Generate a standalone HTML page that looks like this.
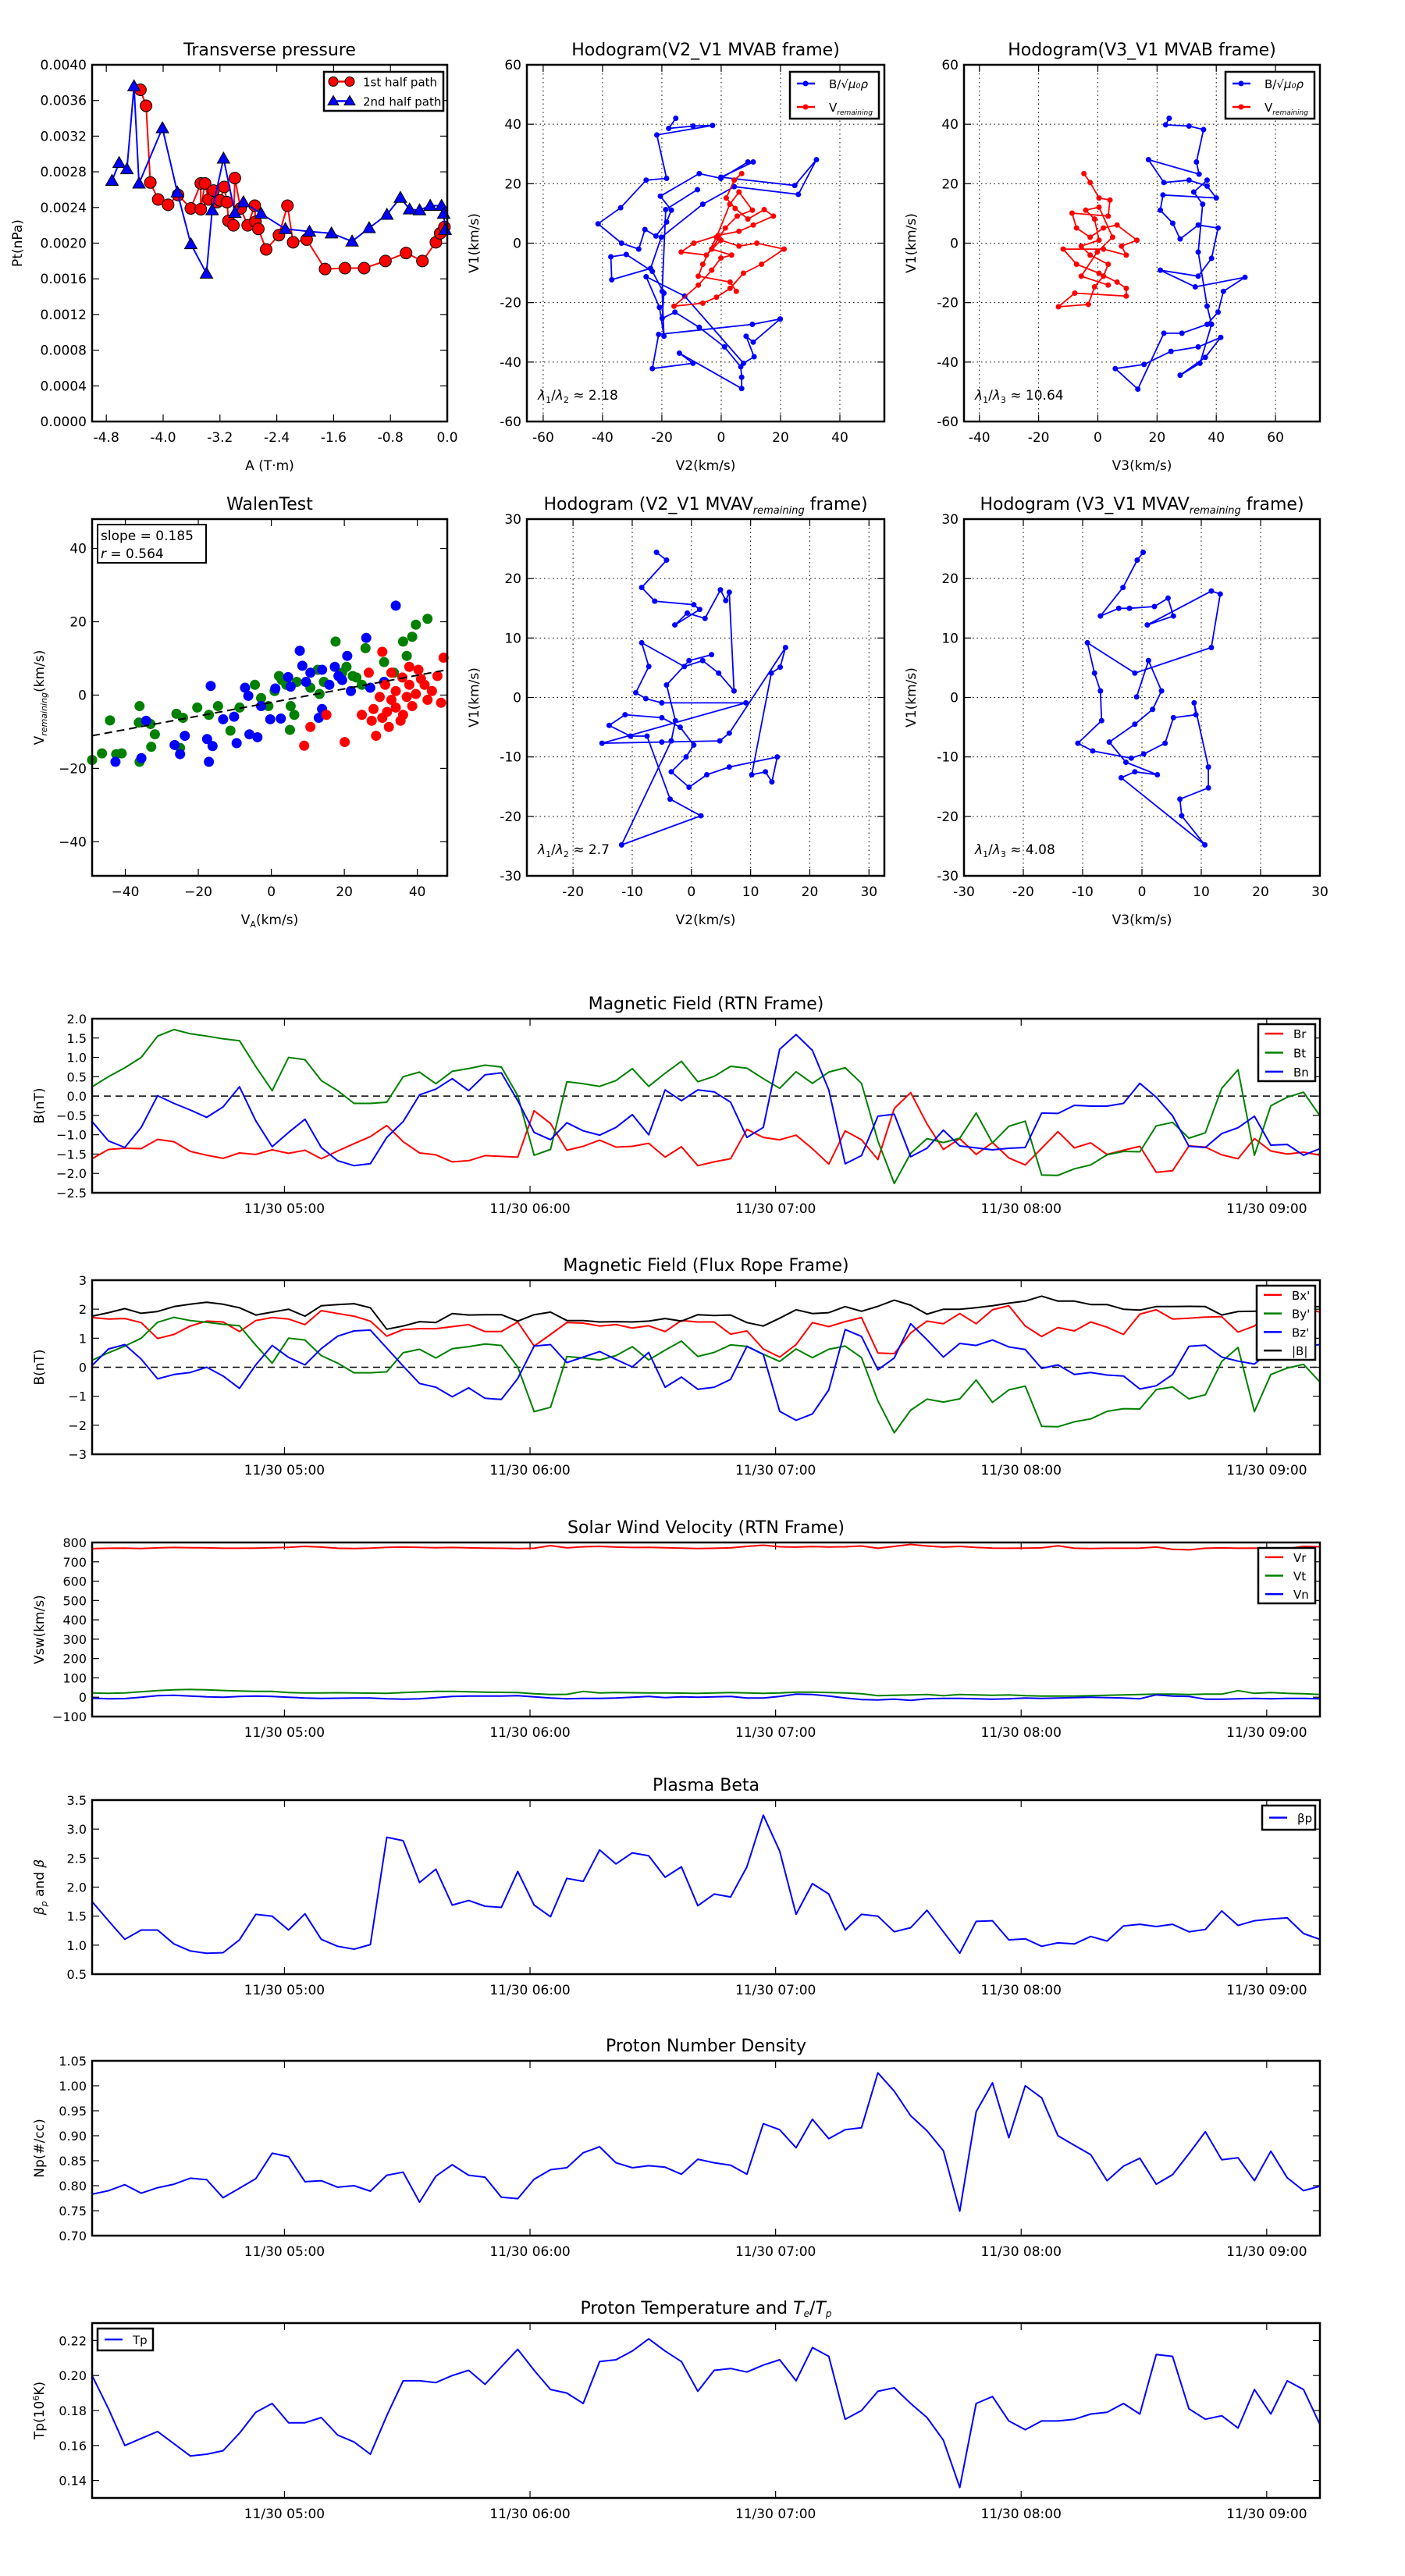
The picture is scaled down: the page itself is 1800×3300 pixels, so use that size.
<!DOCTYPE html>
<html><head><meta charset="utf-8">
<style>
html,body{margin:0;padding:0;background:#fff;}
svg{display:block;font-family:"DejaVu Sans","Liberation Sans",sans-serif;}
</style></head>
<body>
<svg id="fig" width="1800" height="3300" viewBox="0 0 1800 3300" xmlns="http://www.w3.org/2000/svg"></svg>
<script>
// ---------- DATA ----------
const ptRedA=[-4.32,-4.24,-4.18,-4.07,-3.93,-3.79,-3.61,-3.47,-3.47,-3.41,-3.36,-3.29,-3.24,-3.20,-3.14,-3.10,-3.08,-3.01,-2.99,-2.91,-2.81,-2.71,-2.70,-2.66,-2.55,-2.37,-2.25,-2.17,-1.98,-1.72,-1.44,-1.17,-0.87,-0.58,-0.35,-0.16,-0.10,-0.04];
const ptRedP=[0.00372,0.00354,0.00268,0.00249,0.00243,0.00254,0.00239,0.00267,0.00238,0.00267,0.00249,0.00259,0.00246,0.00248,0.00263,0.00246,0.00225,0.00220,0.00273,0.00239,0.00220,0.00242,0.00224,0.00216,0.00193,0.00209,0.00242,0.00201,0.00204,0.00171,0.00172,0.00172,0.00180,0.00189,0.00180,0.00201,0.00211,0.00218];
const ptBlueA=[-4.72,-4.62,-4.51,-4.41,-4.34,-4.01,-3.80,-3.61,-3.39,-3.31,-3.15,-2.99,-2.87,-2.62,-2.28,-1.94,-1.63,-1.34,-1.10,-0.85,-0.66,-0.53,-0.39,-0.24,-0.08,-0.05,-0.03];
const ptBlueP=[0.00270,0.00290,0.00283,0.00376,0.00267,0.00329,0.00257,0.00199,0.00166,0.00237,0.00295,0.00234,0.00246,0.00233,0.00216,0.00213,0.00211,0.00202,0.00217,0.00232,0.00251,0.00238,0.00237,0.00242,0.00242,0.00233,0.00215];

const h1BV2=[-15.3,-17.7,-9.5,-2.9,-21.7,-18.4,-25.3,-33.9,-41.5,-33.6,-27.8,-25.7,-22.0,-18.4,-16.8,-20.5,-7.4,-0.1,9.0,10.8,-0.1,24.8,32.1,26.0,4.4,-6.2,-20.2,-23.8,-36.9,-37.2,-32.0,-23.2,-19.3,-19.9,-15.6,-7.4,1.1,6.6,6.9,6.9,-14.1,-9.5,-23.2,-21.1,10.5,19.9,10.8,8.4,11.1,7.5,-12.3,-25.3,-20.8,-19.3,-19.9,-18.7,-8.0];
const h1BV1=[42.0,38.6,39.4,39.6,36.4,21.8,21.2,11.9,6.5,0.0,-2.0,4.6,2.4,7.1,11.1,15.8,23.4,21.8,27.3,27.3,22.2,19.4,28.1,16.4,19.0,13.1,2.0,-8.5,-12.3,-4.6,-3.8,-9.5,-16.8,-25.3,-23.2,-28.3,-34.9,-41.6,-45.1,-48.9,-37.0,-40.4,-42.2,-30.7,-27.3,-25.5,-33.3,-31.3,-38.2,-40.4,-17.8,-11.3,-21.6,-31.3,-16.2,11.3,18.0];
const h1RV2=[6.9,4.4,1.7,4.7,9.0,14.5,17.6,10.8,6.0,-1.0,-9.2,-13.5,-5.0,-0.1,6.0,12.0,21.2,13.6,7.5,3.0,-1.6,-6.2,-15.9,-7.7,-3.2,-0.1,3.5,-3.2,1.4,5.4,10.5,6.0,2.9,-1.6,-6.2,-7.7,3.0,5.1];
const h1RV1=[23.4,21.2,15.2,11.7,8.1,11.3,9.1,6.1,4.0,2.6,0.0,-3.0,-4.0,1.0,-1.0,0.0,-2.0,-7.1,-10.1,-15.2,-18.2,-20.2,-21.2,-14.1,-9.1,-5.0,-4.0,-2.0,5.1,9.1,11.1,17.2,13.1,2.0,-7.1,-11.1,-13.1,-16.2];
const h2BV3=[24.1,22.9,30.8,35.7,33.3,34.2,17.1,22.3,30.8,36.9,40.0,22.0,21.1,25.3,27.8,33.9,40.6,38.4,33.9,21.1,32.9,49.7,42.4,40.6,36.9,28.4,22.3,13.5,5.9,15.6,24.7,33.9,41.5,36.3,27.8,34.5,38.4,36.9,33.9,35.4,32.4,36.9];
const h2BV1=[42.0,39.8,39.4,38.2,27.3,23.2,28.1,20.4,21.2,19.2,15.2,16.2,11.1,6.7,1.4,6.1,5.1,-5.1,-11.1,-9.1,-14.7,-11.5,-16.2,-23.2,-27.3,-30.3,-30.3,-49.1,-42.2,-40.8,-36.4,-34.9,-31.7,-38.4,-44.4,-40.4,-27.3,-21.2,-3.0,13.1,17.2,21.2];
const h2RV3=[-4.7,-2.6,0.4,4.1,3.5,-8.7,-7.2,-2.6,1.9,6.5,13.2,8.0,9.6,1.9,-11.7,-7.2,0.4,6.5,9.6,9.6,-7.8,-13.3,-3.2,-1.1,1.9,3.5,-2.6,-5.6,0.4,-1.1,-4.1,0.4,5.0,-0.2,-5.6,3.5];
const h2RV1=[23.4,20.4,15.2,14.5,9.1,10.1,5.1,2.0,5.1,6.1,1.0,-1.0,-4.0,-2.0,-2.0,-7.1,-10.1,-13.1,-15.2,-17.8,-16.8,-21.4,-20.6,-14.7,-11.1,-7.1,-4.0,-1.0,1.0,8.1,11.1,12.1,2.0,-3.0,-11.1,-14.1];
const h3V2=[-5.9,-4.2,-8.4,-6.2,0.4,1.4,-2.8,-0.7,2.3,4.9,5.8,6.4,7.2,4.6,1.9,-1.2,-8.4,-7.2,-9.4,-7.7,-5.0,9.2,-15.1,-5.0,4.8,6.4,15.9,15.0,13.5,10.2,12.5,13.6,14.5,6.4,2.6,-0.4,-3.4,-0.9,0.4,-1.9,-5.0,-11.2,-13.9,-10.3,-7.5,-3.6,1.6,-11.8,-3.4,-2.7,-4.2,-0.4,3.4];
const h3V1=[24.4,23.1,18.5,16.2,15.6,14.8,12.2,14.2,13.3,18.1,16.3,17.7,1.1,4.1,6.2,5.2,9.2,5.2,0.8,-0.2,-0.9,-0.9,-7.7,-7.5,-7.3,-6.0,8.4,5.1,4.1,-13.0,-12.5,-14.2,-10.0,-11.7,-13.0,-15.1,-12.5,-10.0,-8.0,-5.0,-3.4,-2.9,-4.7,-6.5,-6.5,-17.1,-19.9,-24.8,-7.3,-3.9,2.1,6.2,7.2];
const h4V3=[0.2,-0.8,-3.2,-7.0,-3.9,-2.1,2.1,4.4,5.3,0.9,11.7,13.2,11.7,-1.2,-9.2,-8.0,-7.0,-6.8,-10.8,-8.3,-1.8,0.3,3.9,5.3,9.1,8.8,11.2,11.2,6.4,6.7,10.6,-3.5,-1.2,2.6,-2.7,-5.5,-1.2,1.8,3.3,1.1,-0.9];
const h4V1=[24.4,23.1,18.5,13.7,15.0,15.0,15.3,16.7,13.7,12.2,17.9,17.4,8.4,4.1,9.2,4.1,1.1,-3.9,-7.7,-9.0,-10.2,-9.5,-7.7,-3.4,-2.9,-0.9,-11.7,-15.2,-17.1,-19.9,-24.8,-13.5,-12.5,-13.0,-10.9,-7.5,-4.5,-2.0,1.1,6.2,0.1];
const wGreenX=[-49.1,-46.4,-42.5,-41,-44.2,-36.1,-36.3,-36.1,-33.1,-31.9,-32.9,-26,-24.2,-25,-20.3,-17.1,-14.6,-11.2,-8.7,-4.5,-2.8,0.9,2.1,4.1,6.3,5.1,7,10.7,12.7,14.4,17.6,20.6,22.3,23.3,25.8,24.8,30.9,33.6,37.1,36.1,38.6,39.6,42.8,2.9,-0.8,5.3,13.2,19.4];
const wGreenY=[-17.7,-15.9,-16.1,-15.9,-6.9,-3.0,-7.5,-18.2,-7.9,-10.7,-14.1,-5.1,-6.2,-14.4,-3.4,-5.4,-3.0,-9.7,-3.4,2.8,-0.8,1.1,5.2,2.8,-5.4,-9.5,3.6,2.0,6.9,3.6,14.6,7.7,5.2,4.8,12.8,2.8,9.0,6.1,10.7,14.6,15.9,19.2,20.8,4.1,-3.0,-3.0,0.3,6.1];
const wBlueX=[-42.7,-35.6,-34.3,-26.5,-25,-23.7,-17.6,-17.1,-16.1,-16.6,-13.2,-10.2,-9.5,-6,-7.2,-6.3,-3.8,-2.8,-0.3,1.1,2.6,4.6,5.3,7.8,8.5,9.5,13,13.9,13.9,15.9,17.4,18.4,20.8,19.4,26,27.1,30.9,34.1,21.8,10.7];
const wBlueY=[-18.2,-17.2,-7.0,-13.6,-16.1,-11.1,-12.0,-18.2,-13.9,2.5,-6.6,-5.9,-13.1,-10.7,2.0,-0.2,-11.5,-3.0,-6.6,1.8,-6.4,4.9,2.3,12.1,8.0,3.6,-6.2,-3.8,6.9,2.8,7.7,5.2,10.7,4.1,15.6,2.0,3.6,24.4,1.1,6.1];
const wRedX=[9,20.1,10.7,15.1,24.8,28,29.7,31.2,28.7,27.5,30.4,31.7,32.9,34.1,35.4,36.1,37.1,37.8,39.6,41,42.8,44,45.5,46.5,47.2,30.4,32.9,37.8,40.3,42,34.1,35.9,38.6,32.2,26.7];
const wRedY=[-13.8,-12.8,-8.7,-5.4,-5.4,-3.8,-0.5,2.8,-11.1,-7.0,-6.2,-4.6,-1.3,-3.4,-7.0,-5.4,-0.5,2.8,0.3,4.4,-1.3,1.1,5.2,-2.1,10.2,11.8,6.1,7.7,6.9,2.8,1.1,4.8,-3.0,-8.7,6.1];
const walenSlope=0.185, walenIntercept=-2.0;

// time series: 4-minute cadence starting 04:13
const tStartMin=253, tStepMin=4;
const timeTicksMin=[300,360,420,480,540];
const timeTickLabels=["11/30 05:00","11/30 06:00","11/30 07:00","11/30 08:00","11/30 09:00"];
const Br=[-1.62,-1.38,-1.35,-1.36,-1.12,-1.18,-1.43,-1.53,-1.61,-1.47,-1.51,-1.39,-1.48,-1.40,-1.62,-1.42,-1.23,-1.05,-0.76,-1.18,-1.47,-1.52,-1.70,-1.67,-1.54,-1.56,-1.58,-0.38,-0.71,-1.40,-1.30,-1.14,-1.32,-1.30,-1.22,-1.58,-1.31,-1.80,-1.70,-1.62,-0.86,-1.07,-1.13,-1.01,-1.36,-1.76,-0.90,-1.13,-1.64,-0.32,0.09,-0.72,-1.38,-1.10,-1.51,-1.20,-1.60,-1.78,-1.35,-0.92,-1.34,-1.21,-1.51,-1.40,-1.30,-1.97,-1.93,-1.29,-1.32,-1.52,-1.62,-1.10,-1.42,-1.50,-1.45,-1.53];
const Bt=[0.24,0.50,0.73,1.00,1.55,1.72,1.61,1.55,1.48,1.43,0.76,0.14,1.00,0.94,0.40,0.14,-0.19,-0.19,-0.16,0.50,0.62,0.32,0.64,0.71,0.80,0.75,0.01,-1.53,-1.38,0.37,0.32,0.25,0.40,0.71,0.25,0.59,0.90,0.37,0.51,0.77,0.72,0.45,0.20,0.63,0.33,0.62,0.73,0.33,-1.16,-2.26,-1.48,-1.10,-1.20,-1.09,-0.44,-1.21,-0.78,-0.65,-2.04,-2.05,-1.88,-1.78,-1.52,-1.43,-1.44,-0.77,-0.68,-1.09,-0.95,0.20,0.68,-1.53,-0.25,-0.03,0.10,-0.51];
const Bn=[-0.66,-1.16,-1.33,-0.81,0.01,-0.19,-0.36,-0.55,-0.28,0.24,-0.64,-1.31,-0.94,-0.60,-1.33,-1.67,-1.80,-1.75,-1.07,-0.66,0.03,0.18,0.45,0.14,0.55,0.60,-0.12,-0.94,-1.13,-0.69,-0.90,-1.01,-0.81,-0.48,-1.00,0.16,-0.12,0.16,0.11,-0.16,-1.07,-0.81,1.21,1.59,1.18,0.16,-1.75,-1.54,-0.52,-0.47,-1.57,-1.35,-0.88,-1.29,-1.34,-1.39,-1.35,-1.33,-0.44,-0.45,-0.24,-0.26,-0.26,-0.19,0.33,-0.03,-0.51,-1.30,-1.33,-0.97,-0.82,-0.52,-1.27,-1.25,-1.53,-1.36];
const Bxp=[1.71,1.66,1.68,1.54,0.99,1.13,1.42,1.59,1.56,1.23,1.61,1.71,1.66,1.47,1.95,1.85,1.76,1.59,1.07,1.30,1.33,1.33,1.40,1.47,1.23,1.23,1.56,0.73,1.13,1.54,1.52,1.42,1.47,1.35,1.43,1.23,1.61,1.56,1.56,1.14,1.25,0.63,0.35,0.78,1.54,1.40,1.57,1.71,0.49,0.47,1.18,1.59,1.50,1.85,1.50,1.98,2.12,1.42,1.06,1.37,1.25,1.56,1.38,1.13,1.83,1.98,1.66,1.69,1.73,1.74,1.21,1.42,1.88,1.93,2.05,1.90];
const Byp=[0.24,0.50,0.73,1.00,1.55,1.72,1.61,1.55,1.48,1.43,0.76,0.14,1.00,0.94,0.40,0.14,-0.19,-0.19,-0.16,0.50,0.62,0.32,0.64,0.71,0.80,0.75,0.01,-1.53,-1.38,0.37,0.32,0.25,0.40,0.71,0.25,0.59,0.90,0.37,0.51,0.77,0.72,0.45,0.20,0.63,0.33,0.62,0.73,0.33,-1.16,-2.26,-1.48,-1.10,-1.20,-1.09,-0.44,-1.21,-0.78,-0.65,-2.04,-2.05,-1.88,-1.78,-1.52,-1.43,-1.44,-0.77,-0.68,-1.09,-0.95,0.20,0.68,-1.53,-0.25,-0.03,0.10,-0.51];
const Bzp=[0.06,0.63,0.78,0.28,-0.40,-0.25,-0.18,0.0,-0.30,-0.73,0.08,0.75,0.34,0.08,0.64,1.07,1.25,1.28,0.66,0.04,-0.56,-0.69,-1.02,-0.71,-1.07,-1.11,-0.39,0.73,0.78,0.16,0.35,0.54,0.27,0.01,0.51,-0.69,-0.34,-0.76,-0.69,-0.42,0.72,0.44,-1.52,-1.83,-1.61,-0.78,1.30,1.06,-0.09,0.32,1.50,0.95,0.35,0.82,0.75,0.94,0.70,0.61,-0.04,0.08,-0.25,-0.18,-0.27,-0.30,-0.75,-0.64,-0.25,0.72,0.76,0.35,0.21,0.11,0.56,0.64,0.73,0.78];
const Bmag=[1.76,1.88,2.02,1.86,1.92,2.09,2.17,2.24,2.17,2.05,1.80,1.90,2.00,1.76,2.12,2.16,2.19,2.05,1.31,1.42,1.57,1.54,1.85,1.80,1.81,1.81,1.59,1.81,1.90,1.61,1.61,1.56,1.57,1.56,1.59,1.68,1.59,1.81,1.78,1.80,1.54,1.42,1.69,1.98,1.85,1.88,2.09,1.93,2.10,2.31,2.14,1.83,2.00,2.00,2.05,2.12,2.21,2.28,2.45,2.28,2.28,2.16,2.16,2.00,1.97,2.09,2.09,2.10,2.09,1.80,1.92,1.93,1.95,1.97,2.07,2.09];
const Vr=[768,770,771,769,772,774,773,772,770,770,771,773,775,780,776,770,769,771,775,776,775,773,774,772,771,770,768,770,784,772,778,780,776,774,775,773,771,769,770,772,780,786,778,776,779,777,778,782,770,780,790,782,776,780,774,771,770,771,772,783,770,769,770,770,771,776,765,762,770,772,770,771,770,768,780,778];
const Vt=[22,20,22,28,34,38,40,38,35,32,30,30,24,22,22,23,22,21,20,24,27,30,30,28,26,25,24,18,14,15,30,22,24,23,22,22,21,20,22,24,22,20,22,26,26,24,22,18,8,10,12,14,8,14,12,10,12,8,6,6,6,8,10,12,14,16,16,14,16,16,34,20,24,20,18,14];
const Vn=[-5,-8,-7,0,8,10,6,2,0,4,6,4,0,-4,-6,-5,-4,-4,-8,-10,-8,-2,4,6,6,6,8,2,-4,-8,-6,-6,-4,0,4,-2,2,0,2,4,-4,-4,4,16,14,6,-4,-12,-14,-10,-16,-8,-6,-6,-8,-10,-8,-4,-6,-4,-2,0,-2,-4,-8,12,6,4,-10,-10,-8,-6,-8,-6,-6,-8];
const betaP=[1.75,1.42,1.10,1.26,1.26,1.02,0.90,0.86,0.87,1.09,1.53,1.50,1.26,1.54,1.10,0.98,0.93,1.01,2.86,2.80,2.08,2.31,1.69,1.77,1.67,1.65,2.27,1.69,1.49,2.15,2.10,2.64,2.40,2.59,2.54,2.17,2.35,1.68,1.88,1.83,2.35,3.24,2.62,1.53,2.06,1.88,1.26,1.53,1.50,1.23,1.30,1.60,1.23,0.86,1.41,1.42,1.09,1.11,0.98,1.04,1.02,1.15,1.07,1.33,1.36,1.32,1.36,1.23,1.27,1.59,1.34,1.42,1.45,1.47,1.20,1.10];
const Np=[0.783,0.790,0.802,0.785,0.796,0.803,0.815,0.812,0.776,0.795,0.814,0.865,0.858,0.808,0.810,0.797,0.800,0.789,0.821,0.827,0.767,0.819,0.842,0.821,0.817,0.777,0.774,0.813,0.832,0.836,0.866,0.878,0.846,0.836,0.840,0.837,0.823,0.853,0.846,0.841,0.823,0.924,0.912,0.876,0.933,0.894,0.912,0.916,1.026,0.989,0.940,0.910,0.870,0.749,0.948,1.006,0.896,1.000,0.976,0.900,0.881,0.862,0.810,0.839,0.855,0.803,0.822,0.864,0.908,0.852,0.856,0.810,0.869,0.816,0.790,0.799];
const Tp=[0.200,0.181,0.160,0.164,0.168,0.161,0.154,0.155,0.157,0.167,0.179,0.184,0.173,0.173,0.176,0.166,0.162,0.155,0.177,0.197,0.197,0.196,0.200,0.203,0.195,0.205,0.215,0.203,0.192,0.190,0.184,0.208,0.209,0.214,0.221,0.214,0.208,0.191,0.203,0.204,0.202,0.206,0.209,0.197,0.216,0.211,0.175,0.180,0.191,0.193,0.184,0.176,0.163,0.136,0.184,0.188,0.174,0.169,0.174,0.174,0.175,0.178,0.179,0.184,0.178,0.212,0.211,0.181,0.175,0.177,0.170,0.192,0.178,0.197,0.192,0.172];

// ---------- DRAWING ----------
const NS="http://www.w3.org/2000/svg";
const fig=document.getElementById('fig');
function el(tag,attrs,parent){const e=document.createElementNS(NS,tag);for(const k in attrs)e.setAttribute(k,attrs[k]);(parent||fig).appendChild(e);return e;}
function txt(s,x,y,size,anchor,parent,extra){const t=el('text',Object.assign({x:x,y:y,'font-size':size,'text-anchor':anchor||'middle',fill:'#000'},extra||{}),parent);t.textContent=s;return t;}

function makeAxes(name,box,xr,yr){
  const g=el('g',{});
  
  
  const sx=v=>box.x+(v-xr[0])/(xr[1]-xr[0])*box.w;
  const sy=v=>box.y+box.h-(v-yr[0])/(yr[1]-yr[0])*box.h;
  return {g,sx,sy,box};
}
function frame(ax){
  const r=el('rect',{x:ax.box.x,y:ax.box.y,width:ax.box.w,height:ax.box.h,fill:'none',stroke:'#000','stroke-width':2.5},ax.g);
  
  
}
function xTicks(ax,vals,labels,grid,size){
  const b=ax.box;
  vals.forEach((v,i)=>{
    const x=ax.sx(v);
    if(grid){const l=el('line',{x1:x,y1:b.y,x2:x,y2:b.y+b.h,stroke:'#000','stroke-width':1,'stroke-dasharray':'1.5,4'},ax.g);}
    el('line',{x1:x,y1:b.y+b.h,x2:x,y2:b.y+b.h-9,stroke:'#000','stroke-width':1.2},ax.g);
    el('line',{x1:x,y1:b.y,x2:x,y2:b.y+9,stroke:'#000','stroke-width':1.2},ax.g);
    const t=txt(labels[i],x,b.y+b.h+26,size||17,'middle',ax.g);
    
    
  });
}
function yTicks(ax,vals,labels,grid,size){
  const b=ax.box;
  vals.forEach((v,i)=>{
    const y=ax.sy(v);
    if(grid){const l=el('line',{x1:b.x,y1:y,x2:b.x+b.w,y2:y,stroke:'#000','stroke-width':1,'stroke-dasharray':'1.5,4'},ax.g);}
    el('line',{x1:b.x,y1:y,x2:b.x+9,y2:y,stroke:'#000','stroke-width':1.2},ax.g);
    el('line',{x1:b.x+b.w,y1:y,x2:b.x+b.w-9,y2:y,stroke:'#000','stroke-width':1.2},ax.g);
    const t=txt(labels[i],b.x-7,y+6,size||17,'end',ax.g);
    
    
  });
}
function title(ax,s,dy){const t=txt(s,ax.box.x+ax.box.w/2,ax.box.y-(dy||12),22,'middle',ax.g);return t;}
function xlabel(ax,s){const t=txt(s,ax.box.x+ax.box.w/2,ax.box.y+ax.box.h+62,17,'middle',ax.g);return t;}
function ylabel(ax,s,off){const x=ax.box.x-(off||70),y=ax.box.y+ax.box.h/2;const t=txt(s,x,y,17,'middle',ax.g,{transform:`rotate(-90 ${x} ${y})`});return t;}
function line(ax,xs,ys,color,w,name){
  const d=xs.map((x,i)=>(i?'L':'M')+ax.sx(x).toFixed(1)+','+ax.sy(ys[i]).toFixed(1)).join('');
  const p=el('path',{d:d,fill:'none',stroke:color,'stroke-width':w||2,'stroke-linejoin':'round'},ax.g);
  
  
  return p;
}
function dots(ax,xs,ys,color,r,name,stroke){
  const g=el('g',{},ax.g);
  
  
  xs.forEach((x,i)=>{const c=el('circle',{cx:ax.sx(x),cy:ax.sy(ys[i]),r:r,fill:color,stroke:stroke||'none','stroke-width':1},g);});
}
function tris(ax,xs,ys,color,r,name){
  const g=el('g',{},ax.g);
  
  
  xs.forEach((x,i)=>{const cx=ax.sx(x),cy=ax.sy(ys[i]);const p=el('polygon',{points:`${cx},${cy-r} ${cx-r},${cy+r*0.75} ${cx+r},${cy+r*0.75}`,fill:color,stroke:'#000','stroke-width':1},g);});
}
function legendBox(ax,x,y,w,h,entries,mark){
  const g=el('g',{},ax.g);
  
  
  el('rect',{x:x,y:y,width:w,height:h,fill:'#fff',stroke:'#000','stroke-width':2.5},g);
  const step=h/entries.length;
  entries.forEach((e,i)=>{
    const cy=y+step*(i+0.5);
    const eg=el('g',{},g);
    
    
    el('line',{x1:x+9,y1:cy,x2:x+32,y2:cy,stroke:e.c,'stroke-width':2.5},eg);
    if(e.m==='o'){el('circle',{cx:x+12,cy:cy,r:6,fill:e.c,stroke:'#000'},eg);el('circle',{cx:x+33,cy:cy,r:6,fill:e.c,stroke:'#000'},eg);}
    if(e.m==='^'){[x+12,x+33].forEach(cx=>el('polygon',{points:`${cx},${cy-7} ${cx-7},${cy+5} ${cx+7},${cy+5}`,fill:e.c,stroke:'#000'},eg));}
    if(e.m==='.'){el('circle',{cx:x+20,cy:cy,r:3.5,fill:e.c},eg);el('circle',{cx:x+9,cy:cy,r:0,fill:e.c},eg);}
    const t=txt(e.l,x+(e.m?50:45),cy+6,e.fs||15,'start',eg);
    if(e.html){t.textContent='';e.html(t);}
  });
}
function range(a,b,s){const r=[];for(let v=a;v<=b+1e-9;v+=s)r.push(+v.toFixed(6));return r;}

// ---------- Transverse pressure ----------
(function(){
  const ax=makeAxes('transverse-pressure-chart',{x:118,y:83,w:455,h:457},[-5.0,0.0],[0,0.004]);
  const xt=[-4.8,-4.0,-3.2,-2.4,-1.6,-0.8,0.0];
  xTicks(ax,xt,xt.map(v=>v.toFixed(1)));
  const yt=range(0,0.004,0.0004);
  yTicks(ax,yt,yt.map(v=>v.toFixed(4)));
  line(ax,ptRedA,ptRedP,'#ff0000',2,'first-half-path-line');
  dots(ax,ptRedA,ptRedP,'#ff0000',7.5,'first-half-path','#000');
  line(ax,ptBlueA,ptBlueP,'#0000ff',2,'second-half-path-line');
  tris(ax,ptBlueA,ptBlueP,'#0000ff',8,'second-half-path');
  frame(ax);
  title(ax,'Transverse pressure');
  xlabel(ax,'A (T·m)');
  ylabel(ax,'Pt(nPa)',90);
  legendBox(ax,415,92,153,50,[{c:'#ff0000',m:'o',l:'1st half path'},{c:'#0000ff',m:'^',l:'2nd half path'}]);
})();

function hodo(name,box,xr,yr,xt,yt,ttl,xl,series,lam,leg){
  const ax=makeAxes(name,box,xr,yr);
  xTicks(ax,xt,xt.map(String),true);
  yTicks(ax,yt,yt.map(String),true);
  series.forEach(s=>{line(ax,s.x,s.y,s.c,1.8,s.n+'-line');dots(ax,s.x,s.y,s.c,3.5,s.n);});
  frame(ax);
  const t=title(ax,'',12);
  t.innerHTML=ttl;
  xlabel(ax,xl);
  ylabel(ax,'V1(km/s)',62);
  const lt=txt('',box.x+14,box.y+box.h-28,17,'start',ax.g);
  lt.innerHTML=lam;
  
  
  if(leg){legendBox(ax,box.x+box.w-121,box.y+9,114,60,[
    {c:'#0000ff',m:'.',l:'',html:t=>{t.innerHTML='B/<tspan font-style="italic">√μ₀ρ</tspan>';}},
    {c:'#ff0000',m:'.',l:'',html:t=>{t.innerHTML='V<tspan font-size="9" dy="4" font-style="italic">remaining</tspan>';}}]);}
  return ax;
}
hodo('hodogram-v2-v1-mvab',{x:675,y:83,w:458,h:457},[-65.5,55],[-60,60],[-60,-40,-20,0,20,40],[-60,-40,-20,0,20,40,60],
  'Hodogram(V2_V1 MVAB frame)','V2(km/s)',
  [{x:h1BV2,y:h1BV1,c:'#0000ff',n:'b-alfven-series'},{x:h1RV2,y:h1RV1,c:'#ff0000',n:'v-remaining-series'}],
  '<tspan font-style="italic">λ</tspan><tspan font-size="11" dy="4">1</tspan><tspan dy="-4">/</tspan><tspan font-style="italic">λ</tspan><tspan font-size="11" dy="4">2</tspan><tspan dy="-4"> ≈ 2.18</tspan>',true);
hodo('hodogram-v3-v1-mvab',{x:1235,y:83,w:456,h:457},[-45.2,75],[-60,60],[-40,-20,0,20,40,60],[-60,-40,-20,0,20,40,60],
  'Hodogram(V3_V1 MVAB frame)','V3(km/s)',
  [{x:h2BV3,y:h2BV1,c:'#0000ff',n:'b-alfven-series'},{x:h2RV3,y:h2RV1,c:'#ff0000',n:'v-remaining-series'}],
  '<tspan font-style="italic">λ</tspan><tspan font-size="11" dy="4">1</tspan><tspan dy="-4">/</tspan><tspan font-style="italic">λ</tspan><tspan font-size="11" dy="4">3</tspan><tspan dy="-4"> ≈ 10.64</tspan>',true);
hodo('hodogram-v2-v1-mvav',{x:675,y:665,w:458,h:457},[-27.8,32.6],[-30,30],[-20,-10,0,10,20,30],[-30,-20,-10,0,10,20,30],
  'Hodogram (V2_V1 MVAV<tspan font-size="13" dy="5" font-style="italic">remaining</tspan><tspan dy="-5"> frame)</tspan>','V2(km/s)',
  [{x:h3V2,y:h3V1,c:'#0000ff',n:'hodogram-series'}],
  '<tspan font-style="italic">λ</tspan><tspan font-size="11" dy="4">1</tspan><tspan dy="-4">/</tspan><tspan font-style="italic">λ</tspan><tspan font-size="11" dy="4">2</tspan><tspan dy="-4"> ≈ 2.7</tspan>',false);
hodo('hodogram-v3-v1-mvav',{x:1235,y:665,w:456,h:457},[-30,30],[-30,30],[-30,-20,-10,0,10,20,30],[-30,-20,-10,0,10,20,30],
  'Hodogram (V3_V1 MVAV<tspan font-size="13" dy="5" font-style="italic">remaining</tspan><tspan dy="-5"> frame)</tspan>','V3(km/s)',
  [{x:h4V3,y:h4V1,c:'#0000ff',n:'hodogram-series'}],
  '<tspan font-style="italic">λ</tspan><tspan font-size="11" dy="4">1</tspan><tspan dy="-4">/</tspan><tspan font-style="italic">λ</tspan><tspan font-size="11" dy="4">3</tspan><tspan dy="-4"> ≈ 4.08</tspan>',false);

// ---------- Walen test ----------
(function(){
  const xr=[-49.1,48.2], yr=[-49.3,48];
  const ax=makeAxes('walen-test-chart',{x:118,y:665,w:455,h:457},xr,yr);
  xTicks(ax,[-40,-20,0,20,40],['−40','−20','0','20','40']);
  yTicks(ax,[-40,-20,0,20,40],['−40','−20','0','20','40']);
  dots(ax,wGreenX,wGreenY,'#008000',6.5,'walen-green-points');
  dots(ax,wBlueX,wBlueY,'#0000ff',6.5,'walen-blue-points');
  dots(ax,wRedX,wRedY,'#ff0000',6.5,'walen-red-points');
  const fx=[xr[0],xr[1]], fy=fx.map(v=>walenSlope*v+walenIntercept);
  const fl=line(ax,fx,fy,'#000',2,'fit-line');
  fl.setAttribute('stroke-dasharray','10,6');
  frame(ax);
  title(ax,'WalenTest');
  const xl=xlabel(ax,'');xl.innerHTML='V<tspan font-size="11" dy="4">A</tspan><tspan dy="-4">(km/s)</tspan>';
  const yl=ylabel(ax,'',62);yl.innerHTML='V<tspan font-size="11" dy="4" font-style="italic">remaining</tspan><tspan dy="-4">(km/s)</tspan>';
  const bg=el('g',{},ax.g);
  
  
  el('rect',{x:125,y:672,width:139,height:49,fill:'#fff',stroke:'#000','stroke-width':2},bg);
  txt('slope = 0.185',129,692,17,'start',bg);
  const r=txt('',129,715,17,'start',bg);r.innerHTML='<tspan font-style="italic">r</tspan> = 0.564';
})();

// ---------- Time series ----------
const N=Br.length;
const tMin=Br.map((_,i)=>tStartMin+i*tStepMin);
function tpanel(name,y,h,yr,yt,ylabs,ttl,ylab,series,legend,zero){
  const ax=makeAxes(name,{x:118,y:y,w:1573,h:h},[tStartMin,tStartMin+(N-1)*tStepMin],yr);
  xTicks(ax,timeTicksMin,timeTickLabels,false,17);
  yTicks(ax,yt,ylabs,false,16);
  if(zero){const z=line(ax,[tStartMin,tStartMin+(N-1)*tStepMin],[0,0],'#000',1.5,'zero-line');z.setAttribute('stroke-dasharray','9,6');}
  series.forEach(s=>line(ax,tMin,s.d,s.c,2,s.n));
  frame(ax);
  const t=title(ax,'',12);t.innerHTML=ttl;
  const yl=ylabel(ax,'',62);yl.innerHTML=ylab;
  if(legend)legendBox(ax,legend.x,legend.y,legend.w,legend.h,legend.e);
  return ax;
}
const fmt1=v=>v.toFixed(1).replace('-','−');
let yt;
yt=range(-2.5,2.0,0.5);
tpanel('magnetic-field-rtn-chart',1305,223,[-2.5,2.0],yt,yt.map(fmt1),'Magnetic Field (RTN Frame)','B(nT)',
  [{d:Br,c:'#ff0000',n:'br-line'},{d:Bt,c:'#008000',n:'bt-line'},{d:Bn,c:'#0000ff',n:'bn-line'}],
  {x:1612,y:1312,w:73,h:73,e:[{c:'#ff0000',l:'Br'},{c:'#008000',l:'Bt'},{c:'#0000ff',l:'Bn'}]},true);
yt=range(-3,3,1);
tpanel('magnetic-field-flux-rope-chart',1640,223,[-3,3],yt,yt.map(v=>String(v).replace('-','−')),'Magnetic Field (Flux Rope Frame)','B(nT)',
  [{d:Bxp,c:'#ff0000',n:'bx-prime-line'},{d:Byp,c:'#008000',n:'by-prime-line'},{d:Bzp,c:'#0000ff',n:'bz-prime-line'},{d:Bmag,c:'#000000',n:'b-magnitude-line'}],
  {x:1610,y:1647,w:75,h:95,e:[{c:'#ff0000',l:"Bx'"},{c:'#008000',l:"By'"},{c:'#0000ff',l:"Bz'"},{c:'#000',l:'|B|'}]},true);
yt=range(-100,800,100);
tpanel('solar-wind-velocity-chart',1976,223,[-100,800],yt,yt.map(v=>String(v).replace('-','−')),'Solar Wind Velocity (RTN Frame)','Vsw(km/s)',
  [{d:Vr,c:'#ff0000',n:'vr-line'},{d:Vt,c:'#008000',n:'vt-line'},{d:Vn,c:'#0000ff',n:'vn-line'}],
  {x:1612,y:1983,w:73,h:71,e:[{c:'#ff0000',l:'Vr'},{c:'#008000',l:'Vt'},{c:'#0000ff',l:'Vn'}]},false);
yt=range(0.5,3.5,0.5);
tpanel('plasma-beta-chart',2306,223,[0.5,3.5],yt,yt.map(v=>v.toFixed(1)),'Plasma Beta','<tspan font-style="italic">β</tspan><tspan font-size="11" dy="4" font-style="italic">p</tspan><tspan dy="-4"> and </tspan><tspan font-style="italic">β</tspan>',
  [{d:betaP,c:'#0000ff',n:'beta-p-line'}],
  {x:1617,y:2313,w:68,h:31,e:[{c:'#0000ff',l:'βp'}]},false);
yt=range(0.70,1.05,0.05);
tpanel('proton-density-chart',2640,224,[0.70,1.05],yt,yt.map(v=>v.toFixed(2)),'Proton Number Density','Np(#/cc)',
  [{d:Np,c:'#0000ff',n:'np-line'}],null,false);
yt=range(0.14,0.22,0.02);
tpanel('proton-temperature-chart',2976,224,[0.13,0.23],yt,yt.map(v=>v.toFixed(2)),'Proton Temperature and <tspan font-style="italic">T</tspan><tspan font-size="12" dy="4" font-style="italic">e</tspan><tspan dy="-4">/</tspan><tspan font-style="italic">T</tspan><tspan font-size="12" dy="4" font-style="italic">p</tspan>','Tp(10<tspan font-size="11" dy="-6">6</tspan><tspan dy="6">K)</tspan>',
  [{d:Tp,c:'#0000ff',n:'tp-line'}],
  {x:125,y:2983,w:71,h:28,e:[{c:'#0000ff',l:'Tp'}]},false);
</script>
</body></html>
